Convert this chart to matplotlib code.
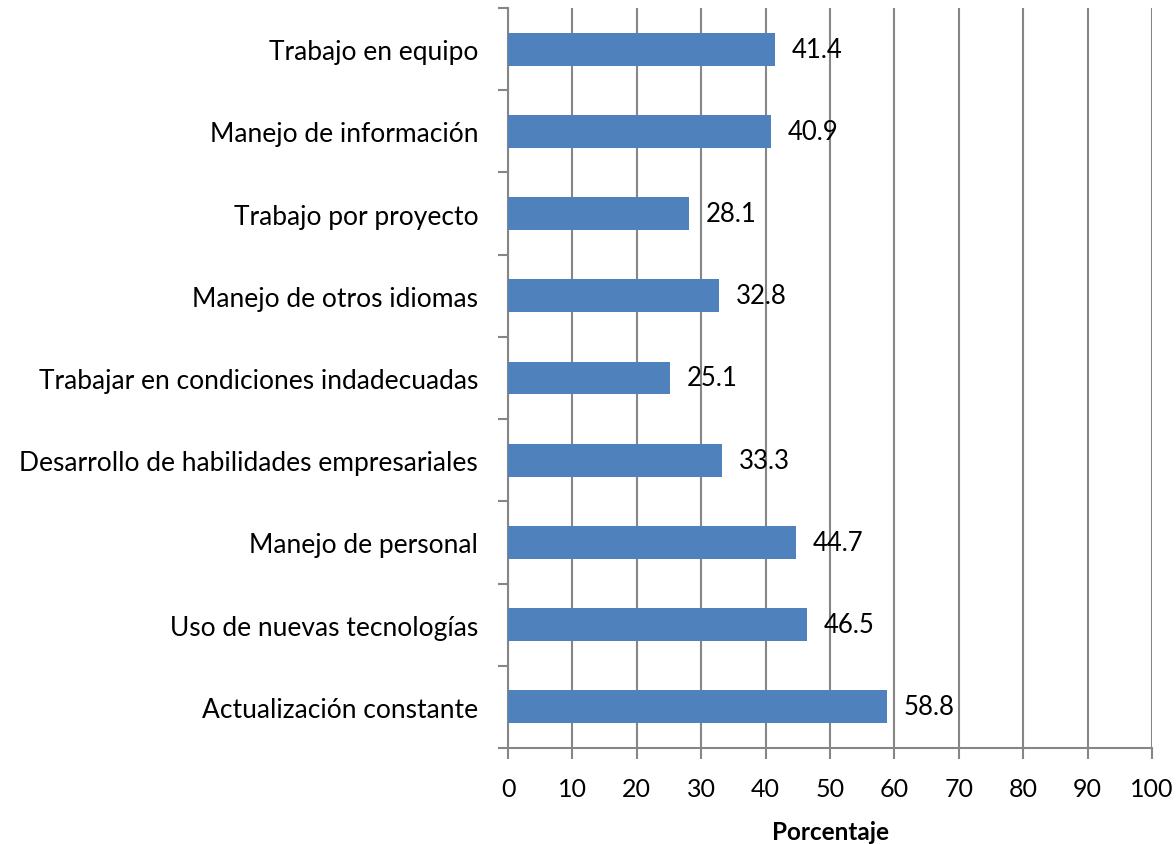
import matplotlib
matplotlib.use("Agg")
import matplotlib.pyplot as plt
import numpy as np

categories = [
    "Actualización constante",
    "Uso de nuevas tecnologías",
    "Manejo de personal",
    "Desarrollo de habilidades empresariales",
    "Trabajar en condiciones indadecuadas",
    "Manejo de otros idiomas",
    "Trabajo por proyecto",
    "Manejo de información",
    "Trabajo en equipo",
]
values = [58.8, 46.5, 44.7, 33.3, 25.1, 32.8, 28.1, 40.9, 41.4]
xticks = list(range(0, 101, 10))

plt.rcParams['font.family'] = ['Lato', 'DejaVu Sans']

fig = plt.figure(figsize=(11.76, 8.45), dpi=100)
ax = fig.add_axes([508/1176, 1 - 749/845, (1152 - 508)/1176, (749 - 9)/845])

grid_c = "#868686"
y = np.arange(len(categories))
ax.barh(y, values, height=0.4, color="#4F81BD", zorder=3)

for yi, v in zip(y, values):
    ax.annotate(f"{v:.1f}", (v, yi), xytext=(12, 0), textcoords="offset points",
                va="center", ha="left", fontsize=18.5, color="black", zorder=4)

ax.set_xlim(0, 100)
ax.set_ylim(-0.5, len(categories) - 0.5)
ax.set_xticks(xticks)
ax.set_xticklabels([str(t) for t in xticks], fontsize=18)
ax.xaxis.grid(True, color=grid_c, linewidth=1.5, zorder=0)

ax.set_yticks(y)
ax.set_yticklabels(categories, fontsize=19)
ax.tick_params(axis="y", length=0, pad=21.5)
ax.set_yticks(np.arange(-0.5, len(categories), 1), minor=True)
ax.tick_params(axis="y", which="minor", length=7, width=1.5, color=grid_c)
ax.tick_params(axis="x", length=8, width=1.5, color=grid_c, pad=13)

for s in ["top", "right"]:
    ax.spines[s].set_visible(False)
for s in ["left", "bottom"]:
    ax.spines[s].set_color(grid_c)
    ax.spines[s].set_linewidth(1.5)

ax.set_xlabel("Porcentaje", fontsize=17.5, fontweight="bold", labelpad=14)

fig.savefig("out.png", dpi=100)
